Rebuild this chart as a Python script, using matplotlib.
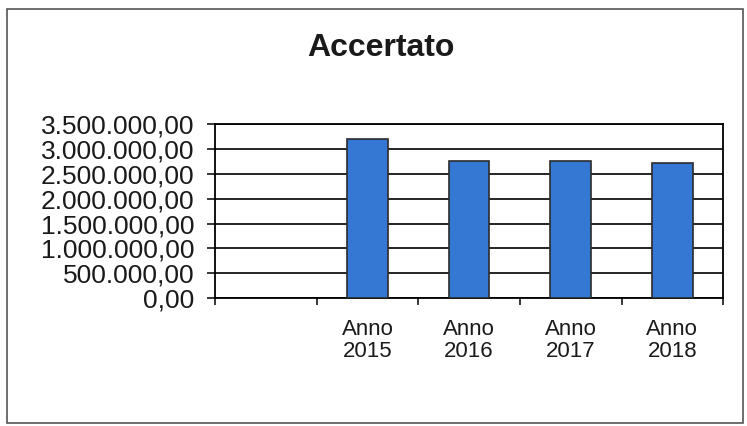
import matplotlib.pyplot as plt
from matplotlib.patches import Rectangle
from matplotlib.ticker import FuncFormatter, MultipleLocator

# first category slot is empty in the source sheet
CATEGORIES = ['', 'Anno\n2015', 'Anno\n2016', 'Anno\n2017', 'Anno\n2018']
ACCERTATO = [None, 3200000, 2750000, 2760000, 2720000]

BAR_COLOR = '#3478d4'
EDGE_COLOR = '#2b2b2b'


def euro_fmt(v, pos):
    s = f'{v:,.2f}'
    return s.replace(',', 'X').replace('.', ',').replace('X', '.')


plt.rcParams['font.family'] = ['Liberation Sans', 'DejaVu Sans']

fig = plt.figure(figsize=(7.47, 4.26), dpi=100)
fig.patch.set_facecolor('white')

# outer chart frame
fig.add_artist(Rectangle((0.009, 0.008), 0.985, 0.972, transform=fig.transFigure,
                         fill=False, edgecolor='#555555', linewidth=1.2))

ax = fig.add_axes([0.288, 0.300, 0.680, 0.409])

xs = [i for i, v in enumerate(ACCERTATO) if v is not None]
vals = [v for v in ACCERTATO if v is not None]
ax.bar(xs, vals, width=0.4, color=BAR_COLOR, edgecolor=EDGE_COLOR, linewidth=1.2, zorder=3)

ax.set_xlim(-0.5, len(CATEGORIES) - 0.5)
ax.set_ylim(0, 3500000)
ax.yaxis.set_major_locator(MultipleLocator(500000))
ax.yaxis.set_major_formatter(FuncFormatter(euro_fmt))
ax.grid(axis='y', color='black', linewidth=1.2, zorder=0)

ax.set_xticks(range(len(CATEGORIES)))
ax.set_xticklabels(CATEGORIES, fontsize=16, linespacing=1.05, color='#1a1a1a')
ax.set_xticks([i + 0.5 for i in range(-1, len(CATEGORIES))], minor=True)
ax.tick_params(axis='x', which='major', length=0, pad=15)
ax.tick_params(axis='x', which='minor', length=5, width=1.1, direction='out')
ax.tick_params(axis='y', length=6, width=1.1, direction='out', labelsize=19,
               labelcolor='#1a1a1a', pad=9)

for sp in ax.spines.values():
    sp.set_linewidth(1.3)
    sp.set_color('black')

fig.text(0.51, 0.888, 'Accertato', ha='center', va='center',
         fontsize=23, fontweight='bold', color='#1a1a1a')

fig.savefig('out.png', dpi=100)
